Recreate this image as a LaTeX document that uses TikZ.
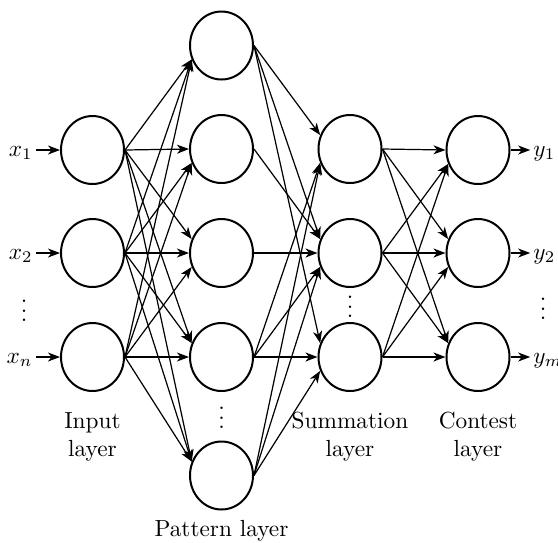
\documentclass[tikz,border=0pt]{standalone}
\usetikzlibrary{shapes.geometric,arrows.meta}
\begin{document}
\begin{tikzpicture}[x=0.4292pt,y=-0.4292pt,
  neuron/.style={ellipse,draw,line width=0.86pt,minimum width=27.04pt,minimum height=29.18pt,inner sep=0pt},
  conn/.style={line width=0.52pt,-{Stealth[length=5.15pt,width=3.86pt,inset=1.5pt]}},
  lbl/.style={inner sep=0pt},
  ]
\useasboundingbox (0,0) rectangle (558,542);
% input layer
\node[neuron] (I1) at (92.5,150) {};
\node[neuron] (I2) at (92.5,253) {};
\node[neuron] (I3) at (92.5,357) {};
% pattern layer
\node[neuron] (P1) at (221.5,45.5) {};
\node[neuron] (P2) at (221.5,149) {};
\node[neuron] (P3) at (221.5,253) {};
\node[neuron] (P4) at (221.5,357) {};
\node[neuron] (P5) at (221.5,475.5) {};
% summation layer
\node[neuron] (S1) at (350,149) {};
\node[neuron] (S2) at (350,253) {};
\node[neuron] (S3) at (350,357) {};
% contest layer
\node[neuron] (C1) at (478,150) {};
\node[neuron] (C2) at (478,253) {};
\node[neuron] (C3) at (478,357) {};
% inputs
\node[lbl,anchor=base east] (x1) at (33,156) {$x_1$};
\node[lbl,anchor=base east] (x2) at (33,259) {$x_2$};
\node[lbl,anchor=base east] (xn) at (33,363) {$x_n$};
\node[lbl] (din) at (24,304) {$\vdots$};
\draw[conn] (x1.east |- I1.west) ++(3,0) -- (I1.west);
\draw[conn] (x2.east |- I2.west) ++(3,0) -- (I2.west);
\draw[conn] (xn.east |- I3.west) ++(3,0) -- (I3.west);
% outputs
\node[lbl,anchor=base west] (y1) at (533,156) {$y_1$};
\node[lbl,anchor=base west] (y2) at (533,259) {$y_2$};
\node[lbl,anchor=base west] (ym) at (533,363) {$y_m$};
\node[lbl] (dout) at (543,302) {$\vdots$};
\draw[conn] (C1.east) -- ([xshift=-1.2pt]C1.east -| y1.west);
\draw[conn] (C2.east) -- ([xshift=-1.2pt]C2.east -| y2.west);
\draw[conn] (C3.east) -- ([xshift=-1.2pt]C3.east -| ym.west);
% other dots
\node[lbl] (dpat) at (221.5,411) {$\vdots$};
\node[lbl] (dsum) at (350,300) {$\vdots$};
% connections
\foreach \s/\t/\a in {
  I1/P1/205, I1/P2/180, I1/P3/155, I1/P4/155, I1/P5/155,
  I2/P1/205, I2/P2/205, I2/P3/180, I2/P4/155, I2/P5/155,
  I3/P1/205, I3/P2/205, I3/P3/205, I3/P4/180, I3/P5/155,
  P1/S1/155, P1/S2/155, P1/S3/155,
  P2/S2/155,
  P3/S2/180,
  P4/S1/205, P4/S2/205, P4/S3/180,
  P5/S1/205, P5/S2/205, P5/S3/205,
  S1/C1/180, S1/C2/155, S1/C3/155,
  S2/C1/205, S2/C2/180, S2/C3/155,
  S3/C1/205, S3/C2/205, S3/C3/180}
  \draw[conn] (\s.east) -- (\t.\a);
% layer labels
\node[lbl,align=center] (tin) at (92.5,437) {Input\\layer};
\node[lbl] (tpat) at (221.5,531) {Pattern layer};
\node[lbl,align=center] (tsum) at (350,437) {Summation\\layer};
\node[lbl,align=center] (tcon) at (478,437) {Contest\\layer};
\end{tikzpicture}
\end{document}
